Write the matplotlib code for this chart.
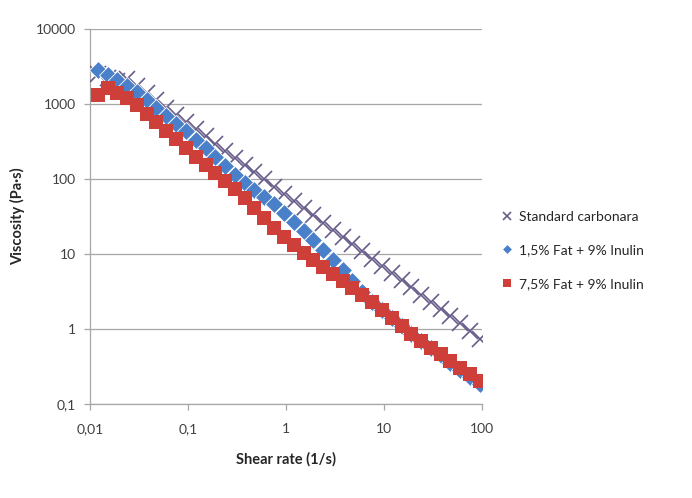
import matplotlib
matplotlib.use('Agg')
import matplotlib.pyplot as plt
from matplotlib.ticker import FixedLocator, FixedFormatter, NullLocator

plt.rcParams['font.family'] = ['Lato', 'DejaVu Sans']

# shear rate (1/s)
shear_rate = [0.012, 0.0151, 0.019, 0.0239, 0.0301, 0.0379, 0.0477, 0.06, 0.0756, 0.0952,
              0.12, 0.151, 0.19, 0.239, 0.301, 0.379, 0.477, 0.6, 0.756, 0.952,
              1.2, 1.51, 1.9, 2.39, 3.01, 3.79, 4.77, 6.0, 7.56, 9.52,
              12.0, 15.1, 19.0, 23.9, 30.1, 37.9, 47.7, 60.0, 75.6, 95.2]

# viscosity (Pa·s)
standard = [2500, 2250, 2050, 2168, 1738, 1396, 1119, 897, 719, 577,
            462, 371, 297, 238, 191, 153, 123, 98.6, 79.1, 63.4,
            50.8, 40.7, 32.7, 26.2, 21.0, 16.9, 13.5, 10.8, 8.69, 6.97,
            5.58, 4.48, 3.59, 2.88, 2.31, 1.85, 1.49, 1.19, 0.94, 0.74]
fat15 = [2850, 2450, 2110, 1742, 1432, 1135, 893, 701, 548, 430,
         336, 258, 196, 149, 113, 89.5, 72.1, 57.9, 46.3, 35.3,
         27.0, 20.5, 15.2, 11.3, 8.34, 6.04, 4.37, 3.16, 2.29, 1.77,
         1.38, 1.08, 0.845, 0.682, 0.550, 0.444, 0.357, 0.286, 0.229, 0.182]
fat75 = [1318, 1622, 1403, 1216, 957, 745, 575, 442, 338, 259,
         199, 153, 120, 94.2, 73.8, 56.0, 41.1, 30.1, 22.2, 17.1,
         13.2, 10.2, 8.20, 6.62, 5.35, 4.32, 3.48, 2.81, 2.27, 1.78,
         1.39, 1.09, 0.859, 0.697, 0.565, 0.458, 0.372, 0.303, 0.248, 0.203]

labels = ['Standard carbonara', '1,5% Fat + 9% Inulin', '7,5% Fat + 9% Inulin']

xticks = [0.01, 0.1, 1, 10, 100]
xtick_labels = ['0,01', '0,1', '1', '10', '100']
yticks = [0.1, 1, 10, 100, 1000, 10000]
ytick_labels = ['0,1', '1', '10', '100', '1000', '10000']

fig = plt.figure(figsize=(6.92, 4.98), dpi=100)
ax = fig.add_axes([0.130, 0.1888, 0.5665, 0.753])

ax.plot(shear_rate, standard, linestyle='none', marker='x', ms=11, mew=1.2,
        color='#675c8a', label=labels[0], zorder=3)
ax.plot(shear_rate, fat15, linestyle='none', marker='D', ms=9.5, mew=0.6,
        mec='white', color='#4a7fc9', label=labels[1], zorder=4)
ax.plot(shear_rate, fat75, linestyle='none', marker='s', ms=10.5, mew=0,
        color='#cf3f3a', label=labels[2], zorder=5)

ax.set_xscale('log')
ax.set_yscale('log')
ax.set_xlim(0.01, 100)
ax.set_ylim(0.1, 10000)

ax.xaxis.set_major_locator(FixedLocator(xticks))
ax.xaxis.set_major_formatter(FixedFormatter(xtick_labels))
ax.yaxis.set_major_locator(FixedLocator(yticks))
ax.yaxis.set_major_formatter(FixedFormatter(ytick_labels))
ax.xaxis.set_minor_locator(NullLocator())
ax.yaxis.set_minor_locator(NullLocator())

ax.grid(axis='y', color='#a6a6a6', linewidth=0.9)
ax.set_axisbelow(True)
for s in ['top', 'right']:
    ax.spines[s].set_visible(False)
for s in ['left', 'bottom']:
    ax.spines[s].set_color('#a6a6a6')
    ax.spines[s].set_linewidth(0.9)

ax.tick_params(axis='x', direction='out', length=4, width=0.9, color='#a6a6a6',
               labelsize=10, labelcolor='#404040', pad=10)
ax.tick_params(axis='y', direction='out', length=4, width=0.9, color='#a6a6a6',
               labelsize=10, labelcolor='#404040', pad=6)

ax.set_xlabel('Shear rate (1/s)', fontsize=10.5, fontweight='bold', color='#262626', labelpad=12)
ax.set_ylabel('Viscosity (Pa·s)', fontsize=10.5, fontweight='bold', color='#262626', labelpad=8)

leg = ax.legend(loc='center left', bbox_to_anchor=(1.028, 0.41), frameon=False,
                fontsize=10, handlelength=1.0, handletextpad=0.4, borderpad=0,
                labelspacing=1.55, markerscale=0.55)
for t in leg.get_texts():
    t.set_color('#262626')

fig.savefig('out.png', dpi=100, facecolor='white')
